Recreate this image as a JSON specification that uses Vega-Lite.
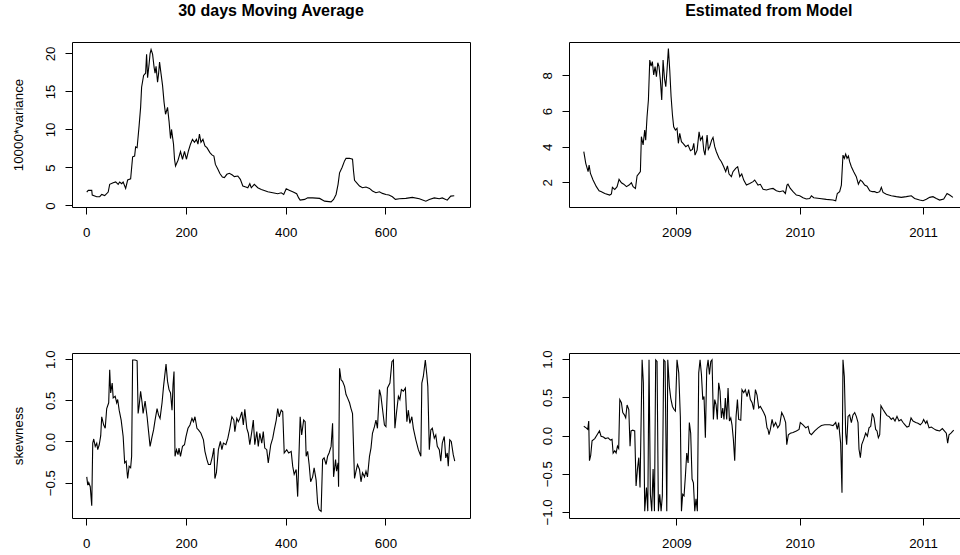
{
  "$schema": "https://vega.github.io/schema/vega-lite/v6.json",
  "autosize": {"type": "none"},
  "padding": {"left": 72, "top": 42, "right": 888, "bottom": 513},
  "background": "white",
  "bounds": "flush",
  "columns": 2,
  "spacing": {"row": 146, "column": 99},
  "datasets": {
    "ma_var": [
      {"day":1,"variance":1.76},{"day":4,"variance":1.98},{"day":11,"variance":1.98},{"day":12,"variance":1.37},{"day":21,"variance":1.15},{"day":27,"variance":1.15},{"day":31,"variance":1.45},{"day":37,"variance":1.3},{"day":44,"variance":1.76},{"day":47,"variance":2.78},{"day":54,"variance":3.0},{"day":59,"variance":3.1},{"day":64,"variance":2.78},{"day":67,"variance":3.08},{"day":71,"variance":2.86},{"day":74,"variance":3.08},{"day":79,"variance":2.25},{"day":83,"variance":3.35},{"day":89,"variance":3.5},{"day":93,"variance":6.4},{"day":97,"variance":6.5},{"day":99,"variance":7.7},{"day":102,"variance":7.6},{"day":106,"variance":10.5},{"day":109,"variance":12.9},{"day":111,"variance":15.55},{"day":115,"variance":17.1},{"day":119,"variance":17.4},{"day":121,"variance":19.9},{"day":123,"variance":16.8},{"day":126,"variance":18.6},{"day":128,"variance":19.96},{"day":130,"variance":20.5},{"day":133,"variance":19.9},{"day":136,"variance":18.2},{"day":138,"variance":17.4},{"day":140,"variance":18.3},{"day":143,"variance":16.2},{"day":145,"variance":17.3},{"day":147,"variance":18.85},{"day":150,"variance":17.3},{"day":153,"variance":15.8},{"day":156,"variance":13.6},{"day":159,"variance":12.0},{"day":163,"variance":12.9},{"day":166,"variance":11.1},{"day":169,"variance":8.8},{"day":171,"variance":10.0},{"day":175,"variance":8.06},{"day":177,"variance":6.08},{"day":179,"variance":5.2},{"day":184,"variance":5.95},{"day":189,"variance":7.1},{"day":193,"variance":6.08},{"day":197,"variance":7.1},{"day":201,"variance":6.08},{"day":205,"variance":7.2},{"day":209,"variance":8.06},{"day":213,"variance":8.7},{"day":217,"variance":8.3},{"day":221,"variance":8.7},{"day":224,"variance":8.06},{"day":227,"variance":9.4},{"day":230,"variance":8.3},{"day":234,"variance":8.7},{"day":238,"variance":7.84},{"day":242,"variance":7.6},{"day":248,"variance":6.96},{"day":252,"variance":6.65},{"day":256,"variance":6.5},{"day":259,"variance":5.4},{"day":264,"variance":4.76},{"day":268,"variance":4.2},{"day":273,"variance":3.74},{"day":277,"variance":3.66},{"day":282,"variance":4.1},{"day":287,"variance":4.23},{"day":293,"variance":4.0},{"day":297,"variance":3.8},{"day":304,"variance":3.88},{"day":309,"variance":3.44},{"day":314,"variance":2.56},{"day":320,"variance":2.42},{"day":324,"variance":2.33},{"day":328,"variance":2.86},{"day":331,"variance":2.33},{"day":337,"variance":2.78},{"day":344,"variance":2.33},{"day":351,"variance":2.11},{"day":357,"variance":1.98},{"day":364,"variance":1.8},{"day":374,"variance":1.67},{"day":384,"variance":1.54},{"day":391,"variance":1.67},{"day":396,"variance":1.45},{"day":401,"variance":2.2},{"day":408,"variance":1.98},{"day":414,"variance":1.8},{"day":422,"variance":1.54},{"day":426,"variance":1.0},{"day":429,"variance":0.7},{"day":438,"variance":0.8},{"day":444,"variance":1.0},{"day":454,"variance":1.0},{"day":468,"variance":0.93},{"day":478,"variance":0.57},{"day":491,"variance":0.48},{"day":496,"variance":0.8},{"day":501,"variance":1.45},{"day":505,"variance":2.78},{"day":508,"variance":4.3},{"day":513,"variance":5.0},{"day":518,"variance":5.86},{"day":521,"variance":6.2},{"day":528,"variance":6.2},{"day":534,"variance":6.08},{"day":536,"variance":4.54},{"day":538,"variance":3.3},{"day":542,"variance":3.0},{"day":548,"variance":2.56},{"day":554,"variance":2.33},{"day":561,"variance":2.42},{"day":568,"variance":2.25},{"day":574,"variance":1.9},{"day":581,"variance":1.67},{"day":588,"variance":1.8},{"day":594,"variance":1.59},{"day":601,"variance":1.45},{"day":607,"variance":1.37},{"day":614,"variance":1.15},{"day":620,"variance":0.8},{"day":628,"variance":0.88},{"day":641,"variance":0.93},{"day":654,"variance":1.06},{"day":668,"variance":0.88},{"day":681,"variance":0.57},{"day":688,"variance":0.8},{"day":698,"variance":1.0},{"day":708,"variance":0.88},{"day":714,"variance":1.0},{"day":724,"variance":0.7},{"day":731,"variance":1.23},{"day":738,"variance":1.28}
    ],
    "model_var": [
      {"time":2008.249,"variance":3.72},{"time":2008.265,"variance":3.07},{"time":2008.284,"variance":2.6},{"time":2008.292,"variance":2.97},{"time":2008.303,"variance":2.5},{"time":2008.324,"variance":2.13},{"time":2008.351,"variance":1.76},{"time":2008.373,"variance":1.53},{"time":2008.392,"variance":1.48},{"time":2008.419,"variance":1.38},{"time":2008.459,"variance":1.29},{"time":2008.473,"variance":1.35},{"time":2008.481,"variance":1.72},{"time":2008.5,"variance":1.6},{"time":2008.519,"variance":1.76},{"time":2008.535,"variance":2.17},{"time":2008.554,"variance":1.98},{"time":2008.573,"variance":1.9},{"time":2008.595,"variance":1.76},{"time":2008.616,"variance":1.85},{"time":2008.635,"variance":1.98},{"time":2008.649,"variance":1.76},{"time":2008.668,"variance":1.66},{"time":2008.681,"variance":2.36},{"time":2008.697,"variance":2.5},{"time":2008.708,"variance":2.6},{"time":2008.716,"variance":4.56},{"time":2008.73,"variance":4.1},{"time":2008.743,"variance":4.93},{"time":2008.751,"variance":4.37},{"time":2008.762,"variance":5.68},{"time":2008.773,"variance":6.62},{"time":2008.784,"variance":8.86},{"time":2008.795,"variance":8.52},{"time":2008.805,"variance":8.77},{"time":2008.816,"variance":8.02},{"time":2008.827,"variance":8.49},{"time":2008.838,"variance":7.93},{"time":2008.849,"variance":8.71},{"time":2008.859,"variance":8.49},{"time":2008.87,"variance":7.74},{"time":2008.881,"variance":6.62},{"time":2008.892,"variance":8.86},{"time":2008.903,"variance":7.83},{"time":2008.914,"variance":7.36},{"time":2008.924,"variance":8.3},{"time":2008.935,"variance":9.51},{"time":2008.946,"variance":8.3},{"time":2008.957,"variance":6.8},{"time":2008.968,"variance":5.78},{"time":2008.978,"variance":5.12},{"time":2008.992,"variance":4.93},{"time":2009.005,"variance":5.03},{"time":2009.016,"variance":4.19},{"time":2009.027,"variance":4.75},{"time":2009.041,"variance":4.28},{"time":2009.054,"variance":4.19},{"time":2009.076,"variance":4.0},{"time":2009.095,"variance":4.09},{"time":2009.114,"variance":3.78},{"time":2009.13,"variance":3.85},{"time":2009.141,"variance":4.19},{"time":2009.151,"variance":3.53},{"time":2009.168,"variance":3.81},{"time":2009.184,"variance":4.84},{"time":2009.195,"variance":4.37},{"time":2009.211,"variance":4.56},{"time":2009.222,"variance":3.81},{"time":2009.232,"variance":3.53},{"time":2009.249,"variance":4.65},{"time":2009.259,"variance":3.85},{"time":2009.27,"variance":4.0},{"time":2009.286,"variance":4.37},{"time":2009.297,"variance":4.52},{"time":2009.311,"variance":4.0},{"time":2009.324,"variance":3.72},{"time":2009.346,"variance":3.35},{"time":2009.365,"variance":3.16},{"time":2009.384,"variance":2.88},{"time":2009.4,"variance":2.6},{"time":2009.414,"variance":2.92},{"time":2009.427,"variance":2.47},{"time":2009.446,"variance":2.32},{"time":2009.459,"variance":2.6},{"time":2009.481,"variance":2.79},{"time":2009.497,"variance":2.88},{"time":2009.514,"variance":2.32},{"time":2009.53,"variance":2.47},{"time":2009.546,"variance":2.13},{"time":2009.568,"variance":1.85},{"time":2009.595,"variance":1.94},{"time":2009.622,"variance":2.04},{"time":2009.635,"variance":2.13},{"time":2009.662,"variance":1.85},{"time":2009.681,"variance":1.89},{"time":2009.703,"variance":1.61},{"time":2009.73,"variance":1.57},{"time":2009.757,"variance":1.63},{"time":2009.784,"variance":1.66},{"time":2009.811,"variance":1.53},{"time":2009.838,"variance":1.48},{"time":2009.865,"variance":1.53},{"time":2009.884,"variance":1.38},{"time":2009.897,"variance":1.85},{"time":2009.905,"variance":1.9},{"time":2009.924,"variance":1.66},{"time":2009.946,"variance":1.48},{"time":2009.973,"variance":1.29},{"time":2010.0,"variance":1.25},{"time":2010.027,"variance":1.14},{"time":2010.054,"variance":1.07},{"time":2010.081,"variance":1.1},{"time":2010.095,"variance":1.25},{"time":2010.114,"variance":1.14},{"time":2010.162,"variance":1.1},{"time":2010.216,"variance":1.05},{"time":2010.27,"variance":1.01},{"time":2010.292,"variance":0.97},{"time":2010.305,"variance":1.38},{"time":2010.324,"variance":1.48},{"time":2010.338,"variance":1.85},{"time":2010.351,"variance":3.53},{"time":2010.362,"variance":3.35},{"time":2010.373,"variance":3.59},{"time":2010.384,"variance":3.35},{"time":2010.395,"variance":3.48},{"time":2010.405,"variance":3.16},{"time":2010.419,"variance":2.88},{"time":2010.438,"variance":2.6},{"time":2010.459,"variance":2.32},{"time":2010.476,"variance":1.9},{"time":2010.492,"variance":2.13},{"time":2010.508,"variance":2.04},{"time":2010.527,"variance":1.85},{"time":2010.546,"variance":1.79},{"time":2010.568,"variance":1.53},{"time":2010.589,"variance":1.48},{"time":2010.608,"variance":1.48},{"time":2010.627,"variance":1.42},{"time":2010.649,"variance":1.48},{"time":2010.662,"variance":1.72},{"time":2010.676,"variance":1.44},{"time":2010.703,"variance":1.33},{"time":2010.743,"variance":1.25},{"time":2010.784,"variance":1.2},{"time":2010.824,"variance":1.16},{"time":2010.865,"variance":1.2},{"time":2010.905,"variance":1.25},{"time":2010.932,"variance":1.1},{"time":2010.973,"variance":1.01},{"time":2011.0,"variance":0.97},{"time":2011.027,"variance":1.05},{"time":2011.054,"variance":1.16},{"time":2011.081,"variance":1.2},{"time":2011.108,"variance":1.1},{"time":2011.135,"variance":1.01},{"time":2011.168,"variance":1.07},{"time":2011.195,"variance":1.38},{"time":2011.216,"variance":1.29},{"time":2011.243,"variance":1.16}
    ],
    "ma_skew": [
      {"day":1,"skewness":-0.43},{"day":3,"skewness":-0.53},{"day":5,"skewness":-0.5},{"day":8,"skewness":-0.55},{"day":11,"skewness":-0.78},{"day":13,"skewness":-0.02},{"day":15,"skewness":0.03},{"day":18,"skewness":-0.06},{"day":21,"skewness":-0.02},{"day":23,"skewness":-0.1},{"day":26,"skewness":-0.04},{"day":29,"skewness":0.07},{"day":31,"skewness":0.3},{"day":35,"skewness":0.2},{"day":38,"skewness":0.16},{"day":41,"skewness":0.4},{"day":45,"skewness":0.47},{"day":47,"skewness":0.87},{"day":49,"skewness":0.59},{"day":52,"skewness":0.71},{"day":54,"skewness":0.53},{"day":58,"skewness":0.55},{"day":61,"skewness":0.47},{"day":63,"skewness":0.51},{"day":66,"skewness":0.38},{"day":70,"skewness":0.26},{"day":74,"skewness":0.06},{"day":77,"skewness":-0.26},{"day":80,"skewness":-0.24},{"day":83,"skewness":-0.45},{"day":86,"skewness":-0.3},{"day":89,"skewness":-0.32},{"day":91,"skewness":-0.18},{"day":93,"skewness":0.99},{"day":98,"skewness":0.99},{"day":102,"skewness":0.98},{"day":104,"skewness":0.34},{"day":106,"skewness":0.43},{"day":109,"skewness":0.61},{"day":112,"skewness":0.47},{"day":114,"skewness":0.34},{"day":118,"skewness":0.49},{"day":122,"skewness":0.3},{"day":125,"skewness":0.12},{"day":128,"skewness":-0.06},{"day":132,"skewness":0.06},{"day":135,"skewness":0.14},{"day":138,"skewness":0.26},{"day":142,"skewness":0.4},{"day":145,"skewness":0.32},{"day":148,"skewness":0.28},{"day":152,"skewness":0.47},{"day":155,"skewness":0.67},{"day":160,"skewness":0.94},{"day":163,"skewness":0.73},{"day":166,"skewness":0.63},{"day":169,"skewness":0.59},{"day":172,"skewness":0.38},{"day":174,"skewness":0.69},{"day":176,"skewness":0.85},{"day":178,"skewness":-0.18},{"day":181,"skewness":-0.1},{"day":184,"skewness":-0.16},{"day":186,"skewness":-0.08},{"day":189,"skewness":-0.18},{"day":193,"skewness":-0.06},{"day":197,"skewness":-0.04},{"day":200,"skewness":0.06},{"day":204,"skewness":0.16},{"day":208,"skewness":0.2},{"day":212,"skewness":0.28},{"day":215,"skewness":0.24},{"day":218,"skewness":0.3},{"day":222,"skewness":0.16},{"day":225,"skewness":0.14},{"day":230,"skewness":0.1},{"day":235,"skewness":0.02},{"day":238,"skewness":-0.12},{"day":242,"skewness":-0.22},{"day":245,"skewness":-0.28},{"day":249,"skewness":-0.28},{"day":253,"skewness":-0.18},{"day":256,"skewness":-0.08},{"day":258,"skewness":-0.45},{"day":261,"skewness":-0.38},{"day":265,"skewness":-0.1},{"day":269,"skewness":0.0},{"day":272,"skewness":-0.1},{"day":275,"skewness":-0.02},{"day":280,"skewness":-0.04},{"day":284,"skewness":0.04},{"day":288,"skewness":0.16},{"day":292,"skewness":0.3},{"day":296,"skewness":0.26},{"day":298,"skewness":0.12},{"day":302,"skewness":0.28},{"day":305,"skewness":0.24},{"day":308,"skewness":0.28},{"day":312,"skewness":0.36},{"day":315,"skewness":0.2},{"day":318,"skewness":0.39},{"day":322,"skewness":0.16},{"day":325,"skewness":0.1},{"day":328,"skewness":-0.04},{"day":332,"skewness":0.12},{"day":335,"skewness":0.26},{"day":338,"skewness":-0.04},{"day":342,"skewness":0.12},{"day":345,"skewness":-0.06},{"day":348,"skewness":0.1},{"day":352,"skewness":-0.02},{"day":355,"skewness":0.12},{"day":358,"skewness":-0.08},{"day":362,"skewness":-0.1},{"day":365,"skewness":-0.26},{"day":370,"skewness":-0.04},{"day":374,"skewness":0.04},{"day":377,"skewness":0.14},{"day":381,"skewness":0.26},{"day":384,"skewness":0.4},{"day":387,"skewness":0.3},{"day":391,"skewness":0.38},{"day":394,"skewness":0.36},{"day":397,"skewness":-0.14},{"day":402,"skewness":-0.1},{"day":406,"skewness":-0.14},{"day":411,"skewness":-0.12},{"day":414,"skewness":-0.3},{"day":417,"skewness":-0.4},{"day":421,"skewness":-0.34},{"day":424,"skewness":-0.67},{"day":429,"skewness":0.3},{"day":432,"skewness":0.08},{"day":436,"skewness":0.26},{"day":439,"skewness":0.24},{"day":441,"skewness":-0.18},{"day":444,"skewness":-0.12},{"day":447,"skewness":-0.28},{"day":450,"skewness":-0.49},{"day":454,"skewness":-0.43},{"day":457,"skewness":-0.32},{"day":461,"skewness":-0.47},{"day":464,"skewness":-0.75},{"day":467,"skewness":-0.83},{"day":471,"skewness":-0.85},{"day":474,"skewness":-0.22},{"day":477,"skewness":-0.2},{"day":481,"skewness":-0.28},{"day":484,"skewness":-0.18},{"day":487,"skewness":-0.14},{"day":491,"skewness":-0.06},{"day":494,"skewness":0.22},{"day":496,"skewness":-0.43},{"day":500,"skewness":-0.22},{"day":502,"skewness":-0.36},{"day":505,"skewness":-0.26},{"day":506,"skewness":-0.55},{"day":508,"skewness":0.89},{"day":511,"skewness":0.75},{"day":514,"skewness":0.73},{"day":518,"skewness":0.67},{"day":521,"skewness":0.57},{"day":524,"skewness":0.53},{"day":528,"skewness":0.47},{"day":531,"skewness":0.4},{"day":534,"skewness":0.34},{"day":538,"skewness":-0.45},{"day":541,"skewness":-0.36},{"day":544,"skewness":-0.28},{"day":548,"skewness":-0.34},{"day":551,"skewness":-0.49},{"day":554,"skewness":-0.38},{"day":558,"skewness":-0.43},{"day":561,"skewness":-0.36},{"day":564,"skewness":-0.43},{"day":568,"skewness":-0.18},{"day":571,"skewness":-0.08},{"day":574,"skewness":0.1},{"day":578,"skewness":0.18},{"day":581,"skewness":0.26},{"day":584,"skewness":0.16},{"day":588,"skewness":0.63},{"day":591,"skewness":0.55},{"day":594,"skewness":0.4},{"day":598,"skewness":0.2},{"day":601,"skewness":0.18},{"day":604,"skewness":0.65},{"day":609,"skewness":0.71},{"day":613,"skewness":0.97},{"day":616,"skewness":0.99},{"day":619,"skewness":0.16},{"day":622,"skewness":0.34},{"day":626,"skewness":0.55},{"day":629,"skewness":0.51},{"day":632,"skewness":0.63},{"day":636,"skewness":0.61},{"day":640,"skewness":0.65},{"day":643,"skewness":0.24},{"day":646,"skewness":0.38},{"day":649,"skewness":0.22},{"day":653,"skewness":0.3},{"day":656,"skewness":0.16},{"day":661,"skewness":0.02},{"day":666,"skewness":-0.1},{"day":671,"skewness":-0.18},{"day":673,"skewness":0.71},{"day":676,"skewness":0.79},{"day":680,"skewness":0.99},{"day":683,"skewness":0.81},{"day":685,"skewness":0.67},{"day":688,"skewness":-0.1},{"day":691,"skewness":0.14},{"day":694,"skewness":0.16},{"day":698,"skewness":0.04},{"day":701,"skewness":0.08},{"day":704,"skewness":-0.06},{"day":708,"skewness":-0.1},{"day":711,"skewness":-0.24},{"day":714,"skewness":-0.02},{"day":718,"skewness":0.06},{"day":721,"skewness":-0.2},{"day":724,"skewness":-0.14},{"day":726,"skewness":-0.3},{"day":729,"skewness":0.02},{"day":732,"skewness":0.0},{"day":736,"skewness":-0.16},{"day":739,"skewness":-0.24}
    ],
    "model_skew": [
      {"time":2008.249,"skewness":0.12},{"time":2008.268,"skewness":0.1},{"time":2008.281,"skewness":0.08},{"time":2008.289,"skewness":0.19},{"time":2008.295,"skewness":-0.33},{"time":2008.305,"skewness":-0.26},{"time":2008.316,"skewness":-0.07},{"time":2008.338,"skewness":-0.04},{"time":2008.357,"skewness":0.01},{"time":2008.376,"skewness":0.06},{"time":2008.389,"skewness":-0.01},{"time":2008.408,"skewness":-0.02},{"time":2008.424,"skewness":-0.04},{"time":2008.446,"skewness":-0.03},{"time":2008.465,"skewness":-0.06},{"time":2008.478,"skewness":-0.05},{"time":2008.487,"skewness":-0.23},{"time":2008.5,"skewness":-0.2},{"time":2008.511,"skewness":-0.23},{"time":2008.522,"skewness":-0.14},{"time":2008.532,"skewness":-0.17},{"time":2008.541,"skewness":0.47},{"time":2008.554,"skewness":0.43},{"time":2008.565,"skewness":0.3},{"time":2008.578,"skewness":0.27},{"time":2008.589,"skewness":0.23},{"time":2008.6,"skewness":0.4},{"time":2008.614,"skewness":0.34},{"time":2008.624,"skewness":-0.14},{"time":2008.632,"skewness":0.06},{"time":2008.646,"skewness":0.07},{"time":2008.662,"skewness":0.06},{"time":2008.673,"skewness":-0.66},{"time":2008.684,"skewness":-0.44},{"time":2008.695,"skewness":-0.29},{"time":2008.705,"skewness":-0.68},{"time":2008.722,"skewness":0.99},{"time":2008.732,"skewness":0.69},{"time":2008.743,"skewness":-0.99},{"time":2008.757,"skewness":-0.68},{"time":2008.768,"skewness":-0.99},{"time":2008.778,"skewness":0.99},{"time":2008.789,"skewness":-0.77},{"time":2008.8,"skewness":-0.99},{"time":2008.811,"skewness":-0.44},{"time":2008.822,"skewness":-0.99},{"time":2008.832,"skewness":0.99},{"time":2008.843,"skewness":0.97},{"time":2008.854,"skewness":-0.99},{"time":2008.865,"skewness":-0.77},{"time":2008.876,"skewness":-0.99},{"time":2008.886,"skewness":-0.79},{"time":2008.897,"skewness":0.99},{"time":2008.908,"skewness":0.97},{"time":2008.922,"skewness":-0.99},{"time":2008.93,"skewness":0.99},{"time":2008.943,"skewness":0.64},{"time":2008.954,"skewness":0.49},{"time":2008.968,"skewness":0.38},{"time":2008.981,"skewness":0.34},{"time":2008.992,"skewness":0.32},{"time":2009.005,"skewness":0.99},{"time":2009.019,"skewness":0.82},{"time":2009.032,"skewness":0.25},{"time":2009.041,"skewness":-0.99},{"time":2009.051,"skewness":-0.77},{"time":2009.062,"skewness":-0.79},{"time":2009.073,"skewness":-0.53},{"time":2009.084,"skewness":-0.23},{"time":2009.095,"skewness":-0.36},{"time":2009.105,"skewness":0.17},{"time":2009.116,"skewness":0.03},{"time":2009.127,"skewness":-0.57},{"time":2009.138,"skewness":-0.62},{"time":2009.149,"skewness":-0.99},{"time":2009.159,"skewness":-0.83},{"time":2009.17,"skewness":-0.99},{"time":2009.181,"skewness":0.82},{"time":2009.192,"skewness":0.99},{"time":2009.203,"skewness":0.8},{"time":2009.214,"skewness":0.47},{"time":2009.224,"skewness":0.51},{"time":2009.235,"skewness":-0.03},{"time":2009.246,"skewness":0.86},{"time":2009.257,"skewness":0.99},{"time":2009.268,"skewness":0.8},{"time":2009.279,"skewness":0.97},{"time":2009.289,"skewness":0.99},{"time":2009.3,"skewness":0.21},{"time":2009.311,"skewness":0.47},{"time":2009.322,"skewness":0.4},{"time":2009.332,"skewness":0.21},{"time":2009.343,"skewness":0.69},{"time":2009.354,"skewness":0.58},{"time":2009.365,"skewness":0.23},{"time":2009.376,"skewness":0.36},{"time":2009.386,"skewness":0.21},{"time":2009.397,"skewness":0.49},{"time":2009.408,"skewness":0.21},{"time":2009.419,"skewness":0.62},{"time":2009.43,"skewness":0.19},{"time":2009.441,"skewness":0.23},{"time":2009.451,"skewness":0.14},{"time":2009.462,"skewness":-0.05},{"time":2009.473,"skewness":-0.33},{"time":2009.484,"skewness":0.25},{"time":2009.495,"skewness":0.47},{"time":2009.505,"skewness":0.21},{"time":2009.522,"skewness":0.2},{"time":2009.532,"skewness":0.6},{"time":2009.546,"skewness":0.56},{"time":2009.559,"skewness":0.6},{"time":2009.573,"skewness":0.51},{"time":2009.586,"skewness":0.6},{"time":2009.6,"skewness":0.47},{"time":2009.614,"skewness":0.43},{"time":2009.627,"skewness":0.34},{"time":2009.641,"skewness":0.6},{"time":2009.654,"skewness":0.53},{"time":2009.668,"skewness":0.36},{"time":2009.681,"skewness":0.38},{"time":2009.695,"skewness":0.34},{"time":2009.708,"skewness":0.3},{"time":2009.722,"skewness":0.25},{"time":2009.735,"skewness":0.1},{"time":2009.743,"skewness":0.08},{"time":2009.751,"skewness":0.01},{"time":2009.762,"skewness":0.08},{"time":2009.776,"skewness":0.21},{"time":2009.789,"skewness":0.12},{"time":2009.805,"skewness":0.17},{"time":2009.822,"skewness":0.1},{"time":2009.838,"skewness":0.14},{"time":2009.854,"skewness":0.3},{"time":2009.87,"skewness":0.25},{"time":2009.886,"skewness":0.17},{"time":2009.895,"skewness":-0.12},{"time":2009.908,"skewness":0.01},{"time":2009.924,"skewness":0.03},{"time":2009.946,"skewness":0.04},{"time":2009.973,"skewness":0.06},{"time":2009.995,"skewness":0.08},{"time":2010.005,"skewness":0.17},{"time":2010.027,"skewness":0.14},{"time":2010.049,"skewness":0.1},{"time":2010.068,"skewness":0.12},{"time":2010.081,"skewness":0.03},{"time":2010.095,"skewness":0.01},{"time":2010.122,"skewness":0.06},{"time":2010.149,"skewness":0.1},{"time":2010.176,"skewness":0.13},{"time":2010.203,"skewness":0.14},{"time":2010.243,"skewness":0.14},{"time":2010.27,"skewness":0.13},{"time":2010.292,"skewness":0.17},{"time":2010.305,"skewness":0.08},{"time":2010.316,"skewness":0.17},{"time":2010.324,"skewness":0.03},{"time":2010.332,"skewness":-0.1},{"time":2010.343,"skewness":-0.75},{"time":2010.351,"skewness":0.99},{"time":2010.362,"skewness":0.77},{"time":2010.373,"skewness":0.03},{"time":2010.381,"skewness":-0.12},{"time":2010.392,"skewness":0.25},{"time":2010.405,"skewness":0.27},{"time":2010.419,"skewness":0.17},{"time":2010.432,"skewness":0.27},{"time":2010.446,"skewness":0.3},{"time":2010.459,"skewness":0.25},{"time":2010.473,"skewness":0.17},{"time":2010.481,"skewness":-0.18},{"time":2010.492,"skewness":-0.29},{"time":2010.503,"skewness":-0.12},{"time":2010.519,"skewness":-0.05},{"time":2010.535,"skewness":0.03},{"time":2010.549,"skewness":-0.01},{"time":2010.562,"skewness":0.1},{"time":2010.576,"skewness":0.12},{"time":2010.589,"skewness":0.29},{"time":2010.603,"skewness":0.23},{"time":2010.616,"skewness":0.08},{"time":2010.627,"skewness":0.06},{"time":2010.638,"skewness":-0.03},{"time":2010.649,"skewness":0.01},{"time":2010.659,"skewness":0.39},{"time":2010.676,"skewness":0.34},{"time":2010.692,"skewness":0.3},{"time":2010.708,"skewness":0.26},{"time":2010.724,"skewness":0.25},{"time":2010.743,"skewness":0.21},{"time":2010.757,"skewness":0.23},{"time":2010.773,"skewness":0.19},{"time":2010.789,"skewness":0.25},{"time":2010.805,"skewness":0.19},{"time":2010.822,"skewness":0.21},{"time":2010.838,"skewness":0.17},{"time":2010.854,"skewness":0.14},{"time":2010.87,"skewness":0.11},{"time":2010.886,"skewness":0.12},{"time":2010.903,"skewness":0.23},{"time":2010.919,"skewness":0.19},{"time":2010.941,"skewness":0.17},{"time":2010.959,"skewness":0.16},{"time":2010.978,"skewness":0.14},{"time":2010.995,"skewness":0.17},{"time":2011.005,"skewness":0.21},{"time":2011.022,"skewness":0.16},{"time":2011.032,"skewness":0.19},{"time":2011.049,"skewness":0.1},{"time":2011.068,"skewness":0.11},{"time":2011.086,"skewness":0.09},{"time":2011.108,"skewness":0.07},{"time":2011.135,"skewness":0.06},{"time":2011.157,"skewness":0.09},{"time":2011.173,"skewness":0.06},{"time":2011.189,"skewness":0.03},{"time":2011.2,"skewness":-0.1},{"time":2011.211,"skewness":0.01},{"time":2011.227,"skewness":0.03},{"time":2011.249,"skewness":0.07}
    ]
  },
  "concat": [
    {
      "width": 398, "height": 165,
      "title": {"text": "30 days Moving Average"},
      "data": {"name": "ma_var"},
      "mark": {"type": "line", "color": "black", "strokeWidth": 1.1, "clip": true},
      "encoding": {
        "x": {"field": "day", "type": "quantitative", "scale": {"domain": [-28.6, 769.6], "nice": false, "zero": false}, "axis": {"title": null, "values": [0, 200, 400, 600]}},
        "y": {"field": "variance", "type": "quantitative", "scale": {"domain": [-0.2, 21.5], "nice": false, "zero": false}, "axis": {"title": "10000*variance", "values": [0, 5, 10, 15, 20]}}
      }
    },
    {
      "width": 399.5, "height": 165,
      "title": {"text": "Estimated from Model"},
      "data": {"name": "model_var"},
      "mark": {"type": "line", "color": "black", "strokeWidth": 1.1, "clip": true},
      "encoding": {
        "x": {"field": "time", "type": "quantitative", "scale": {"domain": [2008.129, 2011.369], "nice": false, "zero": false}, "axis": {"title": null, "values": [2009, 2010, 2011], "format": "d"}},
        "y": {"field": "variance", "type": "quantitative", "scale": {"domain": [0.62, 9.87], "nice": false, "zero": false}, "axis": {"title": null, "values": [2, 4, 6, 8]}}
      }
    },
    {
      "width": 398, "height": 165,
      "data": {"name": "ma_skew"},
      "mark": {"type": "line", "color": "black", "strokeWidth": 1.1, "clip": true},
      "encoding": {
        "x": {"field": "day", "type": "quantitative", "scale": {"domain": [-28.6, 769.6], "nice": false, "zero": false}, "axis": {"title": null, "values": [0, 200, 400, 600]}},
        "y": {"field": "skewness", "type": "quantitative", "scale": {"domain": [-0.93, 1.075], "nice": false, "zero": false}, "axis": {"title": "skewness", "values": [-0.5, 0, 0.5, 1], "format": ".1f"}}
      }
    },
    {
      "width": 399.5, "height": 165,
      "data": {"name": "model_skew"},
      "mark": {"type": "line", "color": "black", "strokeWidth": 1.1, "clip": true},
      "encoding": {
        "x": {"field": "time", "type": "quantitative", "scale": {"domain": [2008.129, 2011.369], "nice": false, "zero": false}, "axis": {"title": null, "values": [2009, 2010, 2011], "format": "d"}},
        "y": {"field": "skewness", "type": "quantitative", "scale": {"domain": [-1.08, 1.08], "nice": false, "zero": false}, "axis": {"title": null, "values": [-1, -0.5, 0, 0.5, 1], "format": ".1f"}}
      }
    }
  ],
  "config": {
    "view": {"stroke": "black", "strokeWidth": 1},
    "axis": {
      "grid": false, "domain": false, "tickColor": "black", "tickSize": 7, "tickWidth": 1,
      "labelFont": "Liberation Sans", "labelFontSize": 13.3, "labelColor": "black",
      "labelFlush": false, "labelOverlap": false,
      "titleFont": "Liberation Sans", "titleFontSize": 13.3, "titleFontWeight": "normal", "titleColor": "black"
    },
    "axisX": {"labelBaseline": "alphabetic", "labelPadding": 22.5},
    "axisY": {"labelAngle": 270, "labelAlign": "center", "labelBaseline": "alphabetic", "labelPadding": 11, "titlePadding": 18},
    "title": {"font": "Liberation Sans", "fontSize": 16, "fontWeight": "bold", "color": "black", "baseline": "alphabetic", "offset": 23, "anchor": "middle"}
  }
}
